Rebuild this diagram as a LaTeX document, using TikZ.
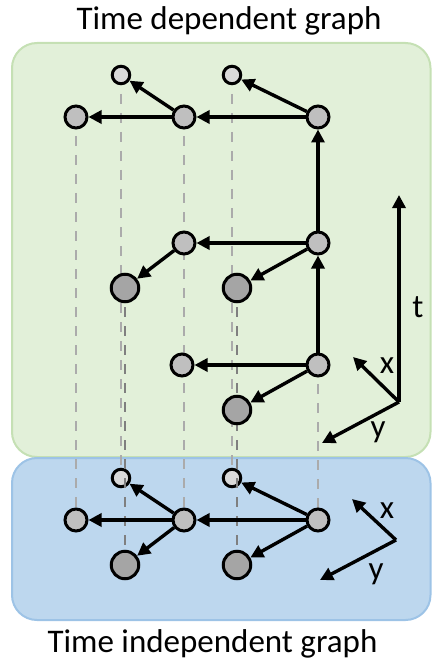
\documentclass[tikz,border=0pt]{standalone}
\usepackage{fontspec}
\setmainfont{Carlito}
\usetikzlibrary{arrows.meta}
\definecolor{panelgreen}{HTML}{E2F0D9}
\definecolor{panelgreenline}{HTML}{C5E0B4}
\definecolor{panelblue}{HTML}{BDD7EE}
\definecolor{panelblueline}{HTML}{9DC3E6}
\definecolor{nodelight}{HTML}{D9D9D9}
\definecolor{nodemid}{HTML}{BFBFBF}
\definecolor{nodedark}{HTML}{A5A5A5}
\definecolor{dashlight}{HTML}{ABABAB}
\definecolor{dashdark}{HTML}{7F7F7F}
\begin{document}
\begin{tikzpicture}[x=1pt,y=-1pt,
  panel/.style={rounded corners=25, line width=2},
  vert/.style={circle, draw=black, line width=3, inner sep=0pt},
  smallv/.style={vert, fill=nodelight, minimum size=17.5},
  midv/.style={vert, fill=nodemid, minimum size=22},
  darkv/.style={vert, fill=nodedark, minimum size=27.5},
  edge/.style={line width=3.4, -{Triangle[length=13,width=13]}},
  lightdash/.style={draw=dashlight, line width=2.7, dash pattern=on 10 off 9},
  darkdash/.style={draw=dashdark, line width=2.7, dash pattern=on 10 off 9},
  lbl/.style={font=\fontsize{33}{40}\selectfont, inner sep=0pt}
]
\useasboundingbox (0,0) rectangle (431,660);

% panels
\draw[panel, fill=panelgreen, draw=panelgreenline] (12,43) rectangle (430.5,457);
\draw[panel, fill=panelblue, draw=panelblueline] (12,458) rectangle (430.5,620);

% titles
\node[lbl, anchor=base] (ttop) at (229,30) {Time dependent graph};
\node[lbl, anchor=base] (tbot) at (212.5,652) {Time independent graph};

% vertex positions
\coordinate (pA1) at (121,75);
\coordinate (pA2) at (232,75);
\coordinate (pB1) at (76,117);
\coordinate (pB2) at (184,117);
\coordinate (pB3) at (318,117);
\coordinate (pC2) at (184,243);
\coordinate (pC3) at (318,243);
\coordinate (pD1) at (125,288);
\coordinate (pD2) at (237,288);
\coordinate (pE2) at (182,365);
\coordinate (pE3) at (318,365);
\coordinate (pF2) at (237,410);
\coordinate (qA1) at (121,478);
\coordinate (qA2) at (232,478);
\coordinate (qB1) at (76,520);
\coordinate (qB2) at (184,520);
\coordinate (qB3) at (318,520);
\coordinate (qD1) at (125,565);
\coordinate (qD2) at (237,565);

% projection lines of the light vertices
\draw[lightdash] (pB1) -- (qB1);
\draw[lightdash] (pA1) -- (qA1);
\draw[lightdash] (pB2) -- (qB2);
\draw[lightdash] (pA2) -- (qA2);
\draw[lightdash] (pE3) -- (qB3);

% light and mid vertices
\node[smallv] (a1) at (pA1) {};
\node[smallv] (a2) at (pA2) {};
\node[midv] (b1) at (pB1) {};
\node[midv] (b2) at (pB2) {};
\node[midv] (b3) at (pB3) {};
\node[midv] (c2) at (pC2) {};
\node[midv] (c3) at (pC3) {};
\node[midv] (e2) at (pE2) {};
\node[midv] (e3) at (pE3) {};
\node[smallv] (ia1) at (qA1) {};
\node[smallv] (ia2) at (qA2) {};
\node[midv] (ib1) at (qB1) {};
\node[midv] (ib2) at (qB2) {};
\node[midv] (ib3) at (qB3) {};

% projection lines of the dark vertices
\draw[darkdash] (pD1) -- (qD1);
\draw[darkdash] (pD2) -- (qD2);

% dark vertices
\node[darkv] (d1) at (pD1) {};
\node[darkv] (d2) at (pD2) {};
\node[darkv] (f2) at (pF2) {};
\node[darkv] (id1) at (qD1) {};
\node[darkv] (id2) at (qD2) {};

% time dependent edges
\draw[edge] (b3) -- (b2);
\draw[edge] (b2) -- (b1);
\draw[edge] (b2) -- (a1);
\draw[edge] (b3) -- (a2);
\draw[edge] (c3) -- (b3);
\draw[edge] (c3) -- (c2);
\draw[edge] (c2) -- (d1);
\draw[edge] (c3) -- (d2);
\draw[edge] (e3) -- (c3);
\draw[edge] (e3) -- (e2);
\draw[edge] (e3) -- (f2);

% time independent edges
\draw[edge] (ib3) -- (ib2);
\draw[edge] (ib2) -- (ib1);
\draw[edge] (ib2) -- (ia1);
\draw[edge] (ib3) -- (ia2);
\draw[edge] (ib2) -- (id1);
\draw[edge] (ib3) -- (id2);

% axes of the time dependent graph
\coordinate (o1) at (399,402);
\coordinate (t1) at (399,195);
\coordinate (x1) at (353,357);
\coordinate (y1) at (322,443);
\draw[edge] (o1) -- (t1);
\draw[edge] (o1) -- (x1);
\draw[edge] (o1) -- (y1);
\node[lbl] (lt) at (418,307) {t};
\node[lbl] (lx1) at (387,366) {x};
\node[lbl] (ly1) at (378,432) {y};

% axes of the time independent graph
\coordinate (o2) at (396,540);
\coordinate (x2) at (352,499);
\coordinate (y2) at (320,580);
\draw[edge] (o2) -- (x2);
\draw[edge] (o2) -- (y2);
\node[lbl] (lx2) at (387,511) {x};
\node[lbl] (ly2) at (376,574) {y};
\end{tikzpicture}
\end{document}
